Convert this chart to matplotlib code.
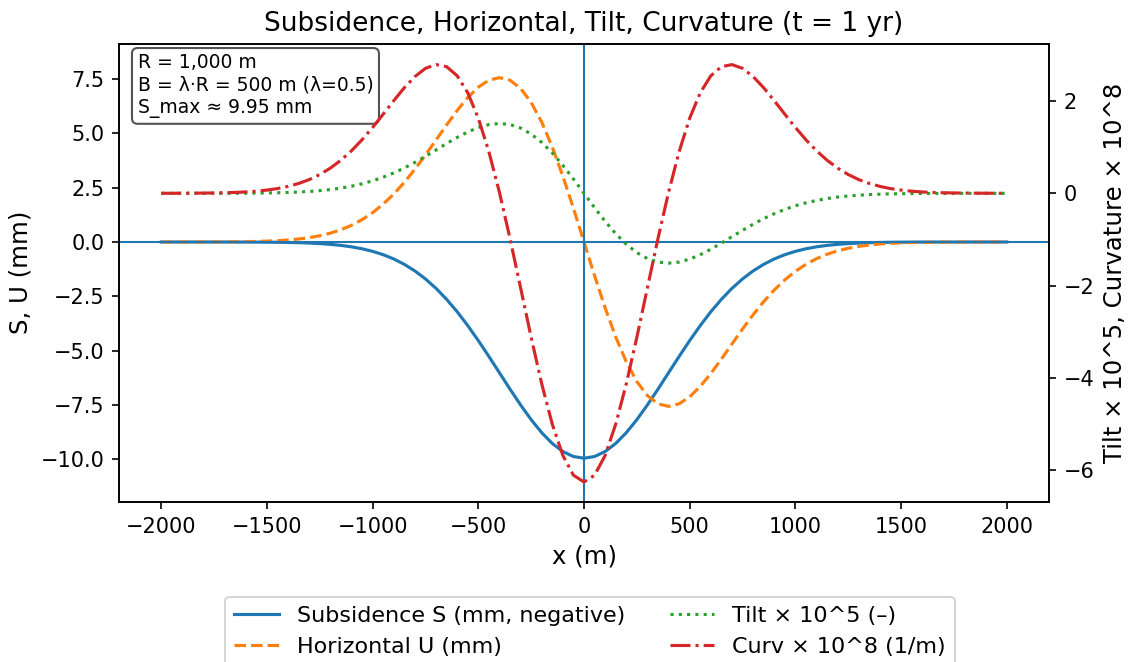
import numpy as np
import matplotlib
matplotlib.use("Agg")
import matplotlib.pyplot as plt

# x positions (m)
x_m = np.arange(-2000, 2001, 50)

# Subsidence S (mm, negative)
subsidence_mm = [
    0.000, 0.000, 0.000, 0.000, 0.000, -0.001, -0.001, -0.002, -0.003, -0.005,
    -0.008, -0.013, -0.021, -0.032, -0.049, -0.074, -0.108, -0.156, -0.222, -0.312,
    -0.430, -0.584, -0.781, -1.028, -1.332, -1.700, -2.134, -2.639, -3.211, -3.847,
    -4.537, -5.267, -6.019, -6.772, -7.499, -8.176, -8.775, -9.271, -9.642, -9.872,
    -9.950,
    -9.872, -9.642, -9.271, -8.775, -8.176, -7.499, -6.772, -6.019, -5.267, -4.537,
    -3.847, -3.211, -2.639, -2.134, -1.700, -1.332, -1.028, -0.781, -0.584, -0.430,
    -0.312, -0.222, -0.156, -0.108, -0.074, -0.049, -0.032, -0.021, -0.013, -0.008,
    -0.005, -0.003, -0.002, -0.001, -0.001, 0.000, 0.000, 0.000, 0.000, 0.000,
]

# Horizontal displacement U (mm)
horizontal_mm = [
    0.000, 0.000, 0.001, 0.001, 0.002, 0.004, 0.006, 0.010, 0.016, 0.026,
    0.040, 0.061, 0.093, 0.138, 0.201, 0.288, 0.407, 0.564, 0.768, 1.028,
    1.351, 1.743, 2.208, 2.746, 3.349, 4.005, 4.694, 5.388, 6.053, 6.647,
    7.126, 7.446, 7.564, 7.446, 7.068, 6.422, 5.514, 4.369, 3.029, 1.551,
    0.000,
    -1.551, -3.029, -4.369, -5.514, -6.422, -7.068, -7.446, -7.564, -7.446, -7.126,
    -6.647, -6.053, -5.388, -4.694, -4.005, -3.349, -2.746, -2.208, -1.743, -1.351,
    -1.028, -0.768, -0.564, -0.407, -0.288, -0.201, -0.138, -0.093, -0.061, -0.040,
    -0.026, -0.016, -0.010, -0.006, -0.004, -0.002, -0.001, -0.001, 0.000, 0.000,
]

# Tilt x 10^5
tilt_e5 = [
    0.000, 0.000, 0.000, 0.000, 0.000, 0.001, 0.001, 0.002, 0.003, 0.005,
    0.008, 0.012, 0.019, 0.028, 0.040, 0.058, 0.081, 0.113, 0.154, 0.206,
    0.270, 0.349, 0.442, 0.549, 0.670, 0.801, 0.939, 1.078, 1.211, 1.329,
    1.425, 1.489, 1.513, 1.489, 1.414, 1.284, 1.103, 0.874, 0.606, 0.310,
    0.000,
    -0.310, -0.606, -0.874, -1.103, -1.284, -1.414, -1.489, -1.513, -1.489, -1.425,
    -1.329, -1.211, -1.078, -0.939, -0.801, -0.670, -0.549, -0.442, -0.349, -0.270,
    -0.206, -0.154, -0.113, -0.081, -0.058, -0.040, -0.028, -0.019, -0.012, -0.008,
    -0.005, -0.003, -0.002, -0.001, -0.001, 0.000, 0.000, 0.000, 0.000, 0.000,
]

# Curvature x 10^8 (1/m)
curv_e8 = [
    0.001, 0.001, 0.002, 0.003, 0.005, 0.008, 0.012, 0.019, 0.030, 0.046,
    0.070, 0.103, 0.150, 0.213, 0.297, 0.407, 0.546, 0.717, 0.922, 1.160,
    1.427, 1.714, 2.007, 2.287, 2.529, 2.707, 2.788, 2.743, 2.546, 2.177,
    1.627, 0.901, 0.020, -0.980, -2.047, -3.120, -4.128, -5.002, -5.678, -6.106,
    -6.252,
    -6.106, -5.678, -5.002, -4.128, -3.120, -2.047, -0.980, 0.020, 0.901, 1.627,
    2.177, 2.546, 2.743, 2.788, 2.707, 2.529, 2.287, 2.007, 1.714, 1.427,
    1.160, 0.922, 0.717, 0.546, 0.407, 0.297, 0.213, 0.150, 0.103, 0.070,
    0.046, 0.030, 0.019, 0.012, 0.008, 0.005, 0.003, 0.002, 0.001, 0.001,
]

info_lines = ["R = 1,000 m", "B = λ·R = 500 m (λ=0.5)", "S_max ≈ 9.95 mm"]

DPI = 150
fig = plt.figure(figsize=(1128 / DPI, 662 / DPI), dpi=DPI)
ax = fig.add_axes([119 / 1128, 1 - 502 / 662, 930 / 1128, 458.5 / 662])
ax2 = ax.twinx()

l1, = ax.plot(x_m, subsidence_mm, color="C0", lw=1.5, label="Subsidence S (mm, negative)")
l2, = ax.plot(x_m, horizontal_mm, color="C1", lw=1.5, ls="--", label="Horizontal U (mm)")
ax.axhline(0, color="C0", lw=1.0)
ax.axvline(0, color="C0", lw=1.0)
l3, = ax2.plot(x_m, tilt_e5, color="C2", lw=1.5, ls=":", label="Tilt × 10^5 (–)")
l4, = ax2.plot(x_m, curv_e8, color="C3", lw=1.5, ls="-.", label="Curv × 10^8 (1/m)")

ax.set_xlim(-2200, 2200)
ax.set_ylim(-11.965, 9.135)
ax2.set_ylim(-6.686, 3.245)
ax.set_yticks([-10, -7.5, -5, -2.5, 0, 2.5, 5, 7.5])
ax2.set_yticks([-6, -4, -2, 0, 2])

ax.tick_params(labelsize=10)
ax2.tick_params(labelsize=10)
ax.set_xlabel("x (m)", fontsize=11.7)
ax.set_ylabel("S, U (mm)", fontsize=11.7)
ax2.set_ylabel("Tilt × 10^5, Curvature × 10^8", fontsize=11.7)
ax.set_title("Subsidence, Horizontal, Tilt, Curvature (t = 1 yr)", fontsize=12.65)

ax.text(0.02, 0.98, "\n".join(info_lines), transform=ax.transAxes, va="top", ha="left",
        fontsize=9.0, linespacing=1.25,
        bbox=dict(boxstyle="round", fc="white", ec="0.25", alpha=0.9))

fig.legend(handles=[l1, l2, l3, l4], loc="upper center", ncol=2, fontsize=10.7,
           bbox_to_anchor=(590 / 1128, 1 - 597 / 662), borderaxespad=0)

fig.savefig("out.png", dpi=DPI)
